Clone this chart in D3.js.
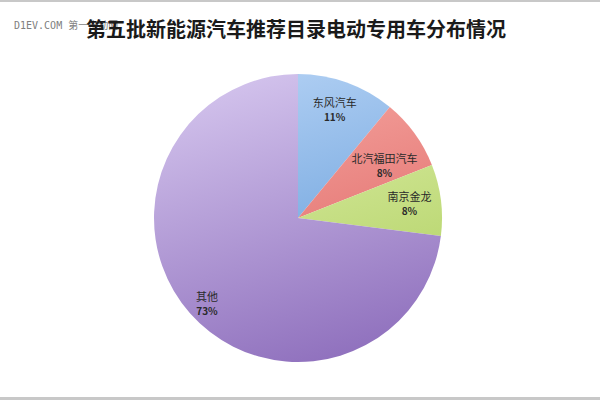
<!DOCTYPE html>
<html><head><meta charset="utf-8">
<script src="https://cdn.jsdelivr.net/npm/d3@7"></script>
<style>html,body{margin:0;padding:0;background:#fff;}svg{display:block;}</style>
</head><body>
<svg id="c" width="600" height="400"></svg>
<script>
const categories = ["东风汽车", "北汽福田汽车", "南京金龙", "其他"];
const values = [11, 8, 8, 73];
const pctLabels = ["11%", "8%", "8%", "73%"];
const title = "第五批新能源汽车推荐目录电动专用车分布情况";
const watermark = "D1EV.COM 第一电动网";

const colorsTop = ["#b0cff3", "#f6a7a2", "#e0f0ad", "#d2c2ec"];
const colorsBot = ["#5a95d6", "#dc605e", "#aecf5f", "#8f70bd"];

const svg = d3.select("#c");
const W = 600, H = 400;
const cx = 298, cy = 218, R = 144;

// frame lines
svg.append("rect").attr("x",0).attr("y",0).attr("width",W).attr("height",2).attr("fill","#c8c8c8");
svg.append("rect").attr("x",0).attr("y",397).attr("width",W).attr("height",3).attr("fill","#c8c8c8");

const defs = svg.append("defs");
categories.forEach((c,i)=>{
  const g = defs.append("linearGradient").attr("id","g"+i)
    .attr("gradientUnits","userSpaceOnUse")
    .attr("x1",-R*0.3).attr("y1",-R).attr("x2",R*0.3).attr("y2",R);
  g.append("stop").attr("offset","0%").attr("stop-color",colorsTop[i]);
  g.append("stop").attr("offset","100%").attr("stop-color",colorsBot[i]);
});

// watermark (drawn beneath the title, as in the reference)
svg.append("text").attr("x",14).attr("y",29)
  .attr("font-family","'DejaVu Sans Mono', 'Noto Sans CJK SC', monospace")
  .attr("font-size",10).attr("fill","#808080").text(watermark);

const pie = d3.pie().sort(null).value(d=>d)(values);
const arc = d3.arc().innerRadius(0).outerRadius(R);
const gp = svg.append("g").attr("transform",`translate(${cx},${cy})`);
gp.selectAll("path").data(pie).enter().append("path")
  .attr("d",arc).attr("fill",(d,i)=>`url(#g${i})`);

// label placement: fraction of radius and angle nudge (degrees)
const labelR = [0.79, 0.70, 0.78, 0.87];
const labelNudge = [-1, 5, 0, -2];
pie.forEach((d,i)=>{
  const a = (d.startAngle+d.endAngle)/2 + labelNudge[i]*Math.PI/180;
  const r = R*labelR[i];
  const x = Math.sin(a)*r, y = -Math.cos(a)*r;
  const t = gp.append("text").attr("text-anchor","middle")
    .attr("font-family","'Noto Sans CJK SC', sans-serif").attr("fill","#2a2a2a");
  t.append("tspan").attr("x",x).attr("y",y-3).attr("font-size",11).text(categories[i]);
  t.append("tspan").attr("x",x).attr("y",y+11).attr("font-size",10).attr("font-weight","bold").text(pctLabels[i]);
});

svg.append("text").attr("x",296).attr("y",37).attr("text-anchor","middle")
  .attr("font-family","'Noto Sans CJK SC', sans-serif").attr("font-weight","bold")
  .attr("font-size",20).attr("fill","#1a1a1a").text(title);
</script>
</body></html>
